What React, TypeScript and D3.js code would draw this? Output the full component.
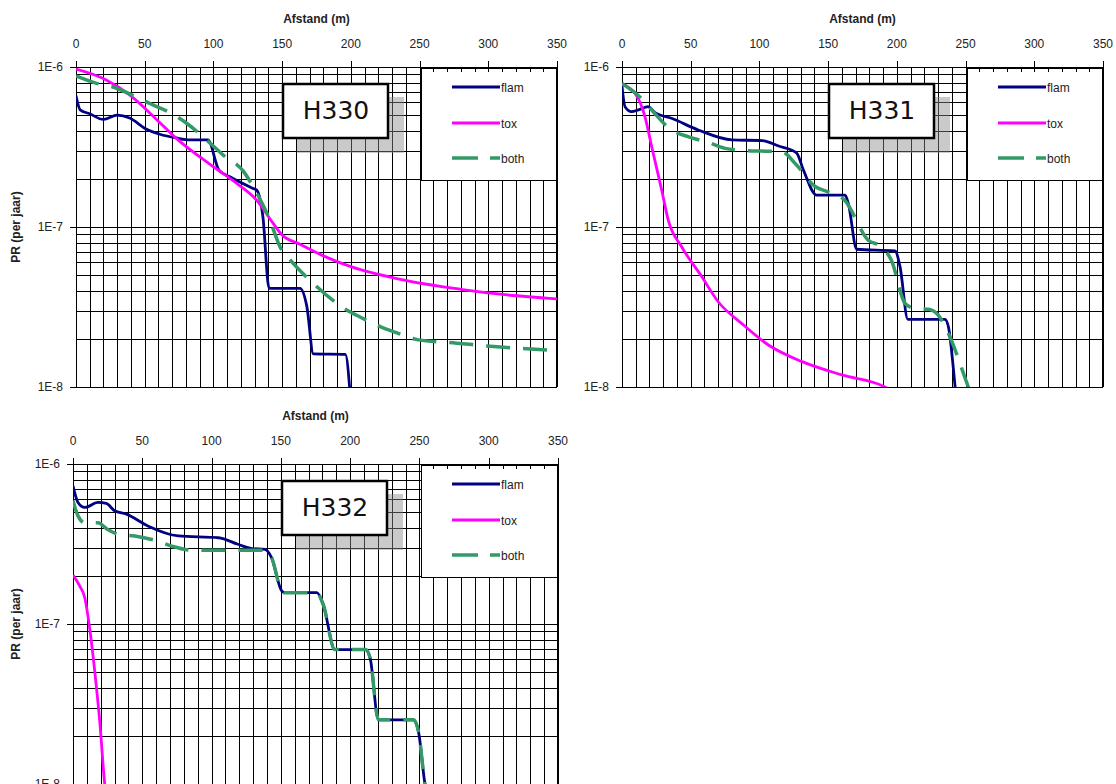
import React from 'react';
import * as d3 from 'd3';

type Pt = [number, number];

const xTicks = [0, 50, 100, 150, 200, 250, 300, 350];
const yDecades = [1e-6, 1e-7, 1e-8];
const yTickLabels = ['1E-6', '1E-7', '1E-8'];
const seriesNames = ['flam', 'tox', 'both'];
const panelNames = ['H330', 'H331', 'H332'];

// H330
const h330Flam: Pt[] = [[0, 6.6e-7], [3, 5.4e-7], [10, 5.1e-7], [20, 4.7e-7], [30, 5.0e-7], [39, 4.8e-7], [51, 4.1e-7], [61, 3.8e-7], [73, 3.6e-7], [83, 3.5e-7], [96, 3.5e-7], [104, 2.27e-7], [112, 2.06e-7], [129, 1.74e-7], [131.5, 1.7e-7], [136, 1.16e-7], [140.5, 4.14e-8], [163, 4.14e-8], [168, 3.18e-8], [172.7, 1.61e-8], [196, 1.6e-8], [199.5, 9e-9]];
const h330Tox: Pt[] = [[0, 9.7e-7], [22, 8.3e-7], [39, 6.7e-7], [59, 4.67e-7], [73, 3.58e-7], [100, 2.38e-7], [117, 1.87e-7], [131.5, 1.47e-7], [143.6, 1.05e-7], [150, 8.9e-8], [163, 7.8e-8], [180, 6.6e-8], [200, 5.65e-8], [236, 4.71e-8], [280, 4.08e-8], [314, 3.76e-8], [350, 3.55e-8]];
const h330Both: Pt[] = [[0, 8.8e-7], [15, 7.9e-7], [27, 7.5e-7], [42, 6.6e-7], [54, 5.9e-7], [70, 5.1e-7], [80.5, 4.45e-7], [95, 3.5e-7], [107, 2.82e-7], [122, 2.22e-7], [130, 1.72e-7], [141, 1.11e-7], [148.5, 7.5e-8], [156, 6.2e-8], [170, 4.66e-8], [197, 3.03e-8], [207, 2.73e-8], [222.5, 2.36e-8], [233, 2.19e-8], [249, 1.97e-8], [277, 1.88e-8], [304, 1.79e-8], [350, 1.69e-8]];

// H331
const h331Flam: Pt[] = [[0, 7.6e-7], [2.2, 5.65e-7], [7, 5.26e-7], [12, 5.4e-7], [19, 5.65e-7], [24, 5.18e-7], [36, 4.78e-7], [55.5, 4.04e-7], [80, 3.5e-7], [102, 3.47e-7], [114, 3.21e-7], [127, 2.91e-7], [132, 2.27e-7], [141.7, 1.58e-7], [162.3, 1.58e-7], [164.7, 1.4e-7], [170.8, 7.26e-8], [198.7, 7.08e-8], [202.3, 5.65e-8], [208, 2.65e-8], [235, 2.65e-8], [237.5, 2.38e-8], [242.4, 1e-8], [243.5, 8e-9]];
const h331Tox: Pt[] = [[0, 7.8e-7], [9.5, 6.84e-7], [16.7, 4.9e-7], [21.6, 3.18e-7], [28.9, 1.7e-7], [33.7, 1.1e-7], [43.5, 7.5e-8], [58, 4.9e-8], [70, 3.41e-8], [87, 2.5e-8], [106.5, 1.83e-8], [131, 1.44e-8], [160, 1.19e-8], [191.4, 1e-8], [195, 9.6e-9]];
const h331Both: Pt[] = [[0, 7.9e-7], [15.5, 6.2e-7], [24, 5.1e-7], [36, 4.04e-7], [48, 3.67e-7], [63, 3.37e-7], [75, 3.1e-7], [92, 3.0e-7], [116, 2.96e-7], [127, 2.44e-7], [140.5, 1.79e-7], [150, 1.66e-7], [162, 1.47e-7], [179, 8.3e-8], [189, 7.5e-8], [196, 6.2e-8], [206, 3.33e-8], [213, 3.1e-8], [223, 3.06e-8], [230, 2.82e-8], [237.5, 2.16e-8], [252, 1e-8], [254, 9e-9]];

// H332
const h332Flam: Pt[] = [[0, 7.3e-7], [3.6, 5.75e-7], [8.5, 5.35e-7], [18, 5.75e-7], [24, 5.67e-7], [30, 5.1e-7], [38.6, 4.86e-7], [54, 4.1e-7], [76, 3.55e-7], [105, 3.46e-7], [119, 3.15e-7], [129, 2.96e-7], [138.5, 2.93e-7], [143.3, 2.6e-7], [150.6, 1.61e-7], [153, 1.57e-7], [176, 1.57e-7], [180.6, 1.32e-7], [189, 6.92e-8], [211, 6.92e-8], [214.4, 6.14e-8], [220.4, 2.52e-8], [245.7, 2.52e-8], [249.3, 2.13e-8], [254, 1e-8], [255, 9e-9]];
const h332Tox: Pt[] = [[0, 2.02e-7], [4.8, 1.73e-7], [8.5, 1.46e-7], [12, 9.46e-8], [15.7, 5.06e-8], [19.3, 2.46e-8], [22.9, 1e-8], [23.5, 9e-9]];
const h332Both: Pt[] = [[0, 5.9e-7], [3.6, 4.74e-7], [8.5, 4.3e-7], [18, 4.3e-7], [25, 3.9e-7], [32.5, 3.64e-7], [44.6, 3.55e-7], [59, 3.34e-7], [73.5, 3.03e-7], [85.5, 2.89e-7], [138.5, 2.89e-7], [143.3, 2.6e-7], [150.6, 1.61e-7], [153, 1.57e-7], [176, 1.57e-7], [180.6, 1.32e-7], [189, 6.92e-8], [211, 6.92e-8], [214.4, 6.14e-8], [220.4, 2.52e-8], [245.7, 2.52e-8], [249.3, 2.13e-8], [254, 1e-8], [255, 9e-9]];

const colors = ['#000080', '#ff00ff', '#339966'];
const FONT = 'Liberation Sans, Arial, sans-serif';

const panels = [
  { id: 'p1', name: panelNames[0], left: 76, top: 67, w: 481, h: 320, yTitle: true, series: [h330Flam, h330Tox, h330Both] },
  { id: 'p2', name: panelNames[1], left: 622, top: 67, w: 481, h: 320, yTitle: false, series: [h331Flam, h331Tox, h331Both] },
  { id: 'p3', name: panelNames[2], left: 73, top: 464, w: 485, h: 320, yTitle: true, series: [h332Flam, h332Tox, h332Both] },
];

const crisp = (v: number) => Math.round(v) + 0.5;

function Panel({ p }: { p: typeof panels[number] }) {
  const x = d3.scaleLinear().domain([0, 350]).range([0, p.w]);
  const y = d3.scaleLog().domain([1e-8, 1e-6]).range([p.h, 0]);

  const vGrid = d3.range(0, 351, 10);
  const hGrid: number[] = [];
  [1e-8, 1e-7].forEach(dec => { for (let m = 1; m < 10; m++) hGrid.push(m * dec); });
  hGrid.push(1e-6);

  const line = d3.line<Pt>().x(d => x(d[0])).y(d => y(d[1])).curve(d3.curveMonotoneX);

  const legX = Math.round(x(251));
  const legW = p.w - legX;
  const legH = 112;
  const boxX = Math.round(x(150));
  const boxY = 16;
  const rows = [20, 56, 91];

  return (
    <g transform={`translate(${p.left},${p.top})`} fontFamily={FONT}>
      <defs>
        <clipPath id={`clip-${p.id}`}>
          <rect x={0} y={0} width={p.w} height={p.h} />
        </clipPath>
      </defs>
      <rect x={0} y={0} width={p.w} height={p.h} fill="#fff" />
      {/* grid */}
      {vGrid.map(d => (
        <line key={'v' + d} x1={crisp(x(d))} x2={crisp(x(d))} y1={0} y2={p.h} stroke="#000" strokeWidth={1} />
      ))}
      {hGrid.map((v, i) => (
        <line key={'h' + i} x1={0} x2={p.w} y1={crisp(y(v))} y2={crisp(y(v))} stroke="#000" strokeWidth={1} />
      ))}

      {/* legend box */}
      <rect x={legX + 0.5} y={1.5} width={legW - 1} height={legH} fill="#fff" stroke="#000" strokeWidth={1} />
      {vGrid.filter(d => x(d) > legX).map(d => (
        <line key={'t' + d} x1={crisp(x(d))} x2={crisp(x(d))} y1={0} y2={5} stroke="#000" strokeWidth={1} />
      ))}
      {seriesNames.map((s, i) => (
        <g key={s}>
          <line x1={legX + 31} x2={legX + 79} y1={rows[i]} y2={rows[i]} stroke={colors[i]}
            strokeWidth={i === 2 ? 3.5 : 3} strokeDasharray={i === 2 ? '26,12' : undefined} />
          <text x={legX + 80} y={rows[i] + 4.5} fontSize={12} fill="#222">{s}</text>
        </g>
      ))}

      {/* axes */}
      <line x1={0} x2={p.w} y1={0.5} y2={0.5} stroke="#000" />
      <line x1={0.5} x2={0.5} y1={0} y2={p.h} stroke="#000" />
      <line x1={p.w - 0.5} x2={p.w - 0.5} y1={0} y2={p.h} stroke="#000" />
      {xTicks.map(t => (
        <g key={'xt' + t}>
          <line x1={crisp(x(t))} x2={crisp(x(t))} y1={-6} y2={0} stroke="#000" />
          <text x={x(t)} y={-19} textAnchor="middle" fontSize={12} fill="#222">{t}</text>
        </g>
      ))}
      <text x={p.w / 2} y={-44} textAnchor="middle" fontSize={12} fontWeight="bold" fill="#222">Afstand (m)</text>
      {yDecades.map((v, i) => (
        <g key={'yt' + i}>
          <line x1={-6} x2={0} y1={crisp(y(v))} y2={crisp(y(v))} stroke="#000" />
          <text x={-13} y={y(v) + 4} textAnchor="end" fontSize={12} fill="#222">{yTickLabels[i]}</text>
        </g>
      ))}
      {p.yTitle && (
        <text transform={`translate(${20 - p.left},${p.h / 2}) rotate(-90)`} textAnchor="middle"
          fontSize={12} fontWeight="bold" fill="#222">PR (per jaar)</text>
      )}

      {/* series */}
      <g clipPath={`url(#clip-${p.id})`}>
        {p.series.map((s, i) => (
          <path key={seriesNames[i]} d={line(s) || ''} fill="none" stroke={colors[i]}
            strokeWidth={i === 2 ? 3.5 : 2.8} strokeDasharray={i === 2 ? '24,13' : undefined}
            strokeLinejoin="round" />
        ))}
      </g>

      {/* title box with soft shadow */}
      <rect x={boxX + 15} y={boxY + 14} width={107} height={56} fill="#8a8a8a" opacity={0.45} />
      <rect x={boxX + 1} y={boxY + 1} width={105} height={54} fill="#fff" stroke="#000" strokeWidth={2.5} />
      <text x={boxX + 54} y={boxY + 36} textAnchor="middle" fontSize={25} fontFamily="DejaVu Sans, Verdana, sans-serif" fill="#111">{p.name}</text>
    </g>
  );
}

export default function App() {
  return (
    <svg width={1116} height={784} style={{ position: 'absolute', left: 0, top: 0, background: '#fff' }}>
      <rect width={1116} height={784} fill="#fff" />
      {panels.map(p => <Panel key={p.id} p={p} />)}
    </svg>
  );
}
